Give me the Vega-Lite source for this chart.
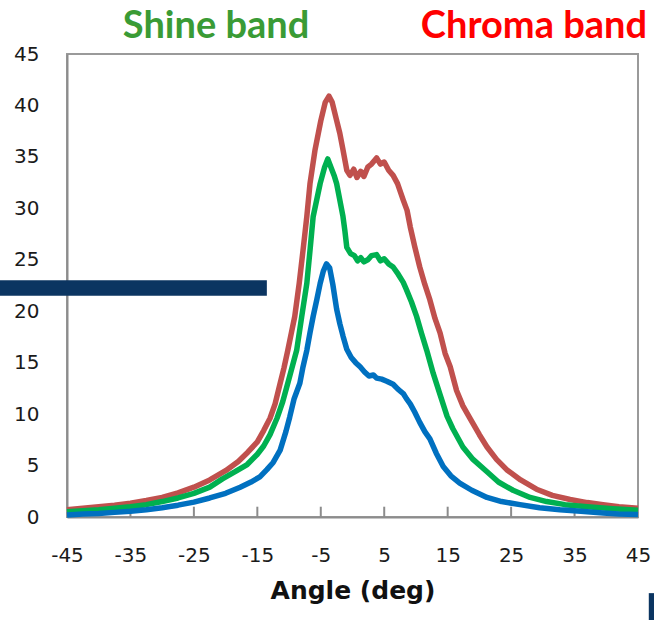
{
  "$schema": "https://vega.github.io/schema/vega-lite/v6.json",
  "autosize": "none",
  "width": 571,
  "height": 463,
  "padding": {"left": 67, "top": 54, "right": 16, "bottom": 103},
  "background": "white",
  "config": {
    "view": {"stroke": "#9a9a9a", "strokeWidth": 2},
    "axis": {"labelFont": "DejaVu Sans", "labelFontSize": 20, "labelColor": "#1a1a1a", "domainColor": "#8c8c8c", "domainWidth": 2, "tickColor": "#8c8c8c", "gridColor": "#a6a6a6", "gridWidth": 2}
  },
  "datasets": {
    "ticks": [{"t": -35}, {"t": -25}, {"t": -15}, {"t": -5}, {"t": 5}, {"t": 15}, {"t": 25}, {"t": 35}],
    "curves": [
      {"s":"Red","x":-45,"y":0.7},{"s":"Red","x":-42.5,"y":0.85},{"s":"Red","x":-40,"y":1.0},{"s":"Red","x":-37.5,"y":1.15},{"s":"Red","x":-35,"y":1.35},{"s":"Red","x":-32.5,"y":1.6},{"s":"Red","x":-30,"y":1.9},{"s":"Red","x":-27.5,"y":2.35},{"s":"Red","x":-25,"y":2.9},{"s":"Red","x":-22.5,"y":3.6},{"s":"Red","x":-20,"y":4.5},{"s":"Red","x":-18,"y":5.4},{"s":"Red","x":-16.5,"y":6.3},{"s":"Red","x":-15,"y":7.3},{"s":"Red","x":-14,"y":8.4},{"s":"Red","x":-13,"y":9.6},{"s":"Red","x":-12.2,"y":11.0},{"s":"Red","x":-11.4,"y":13.0},{"s":"Red","x":-10.8,"y":14.5},{"s":"Red","x":-10.2,"y":16.2},{"s":"Red","x":-9.6,"y":18.0},{"s":"Red","x":-9.1,"y":19.5},{"s":"Red","x":-8.4,"y":22.7},{"s":"Red","x":-7.8,"y":25.9},{"s":"Red","x":-7.2,"y":29.2},{"s":"Red","x":-6.7,"y":32.4},{"s":"Red","x":-5.9,"y":35.7},{"s":"Red","x":-5.0,"y":38.5},{"s":"Red","x":-4.3,"y":40.3},{"s":"Red","x":-3.7,"y":40.9},{"s":"Red","x":-3.2,"y":40.3},{"s":"Red","x":-2.6,"y":38.8},{"s":"Red","x":-2.0,"y":37.3},{"s":"Red","x":-1.5,"y":35.7},{"s":"Red","x":-0.9,"y":33.7},{"s":"Red","x":-0.4,"y":33.2},{"s":"Red","x":0.2,"y":33.8},{"s":"Red","x":0.7,"y":33.0},{"s":"Red","x":1.3,"y":33.6},{"s":"Red","x":1.8,"y":33.1},{"s":"Red","x":2.4,"y":34.0},{"s":"Red","x":3.0,"y":34.3},{"s":"Red","x":3.8,"y":34.9},{"s":"Red","x":4.4,"y":34.3},{"s":"Red","x":5.0,"y":34.5},{"s":"Red","x":5.7,"y":33.7},{"s":"Red","x":6.4,"y":33.2},{"s":"Red","x":7.1,"y":32.4},{"s":"Red","x":8.0,"y":30.8},{"s":"Red","x":8.6,"y":29.8},{"s":"Red","x":9.1,"y":28.2},{"s":"Red","x":9.8,"y":26.3},{"s":"Red","x":10.6,"y":24.3},{"s":"Red","x":11.4,"y":22.6},{"s":"Red","x":12.2,"y":21.1},{"s":"Red","x":13.0,"y":19.3},{"s":"Red","x":13.8,"y":17.9},{"s":"Red","x":14.6,"y":15.9},{"s":"Red","x":15.4,"y":14.6},{"s":"Red","x":16.4,"y":12.3},{"s":"Red","x":17.4,"y":10.8},{"s":"Red","x":18.5,"y":9.6},{"s":"Red","x":20,"y":8.0},{"s":"Red","x":21.2,"y":6.8},{"s":"Red","x":22.7,"y":5.6},{"s":"Red","x":24.3,"y":4.6},{"s":"Red","x":26.5,"y":3.6},{"s":"Red","x":29,"y":2.7},{"s":"Red","x":31.5,"y":2.1},{"s":"Red","x":34.3,"y":1.7},{"s":"Red","x":37,"y":1.4},{"s":"Red","x":39.5,"y":1.2},{"s":"Red","x":42,"y":1.0},{"s":"Red","x":45,"y":0.85},
      {"s":"Green","x":-45,"y":0.5},{"s":"Green","x":-42.5,"y":0.6},{"s":"Green","x":-40,"y":0.7},{"s":"Green","x":-37.5,"y":0.85},{"s":"Green","x":-35,"y":1.0},{"s":"Green","x":-32.5,"y":1.2},{"s":"Green","x":-30,"y":1.5},{"s":"Green","x":-27.5,"y":1.85},{"s":"Green","x":-25,"y":2.3},{"s":"Green","x":-22.5,"y":2.9},{"s":"Green","x":-20.5,"y":3.7},{"s":"Green","x":-18.5,"y":4.4},{"s":"Green","x":-16.6,"y":5.1},{"s":"Green","x":-15,"y":6.1},{"s":"Green","x":-14,"y":6.9},{"s":"Green","x":-13,"y":8.0},{"s":"Green","x":-11.9,"y":9.6},{"s":"Green","x":-11,"y":11.2},{"s":"Green","x":-10.2,"y":13.0},{"s":"Green","x":-9.5,"y":14.6},{"s":"Green","x":-8.8,"y":16.2},{"s":"Green","x":-8.0,"y":19.5},{"s":"Green","x":-7.2,"y":22.7},{"s":"Green","x":-6.7,"y":25.9},{"s":"Green","x":-6.2,"y":29.2},{"s":"Green","x":-5.1,"y":32.4},{"s":"Green","x":-4.4,"y":34.0},{"s":"Green","x":-3.9,"y":34.8},{"s":"Green","x":-3.4,"y":34.0},{"s":"Green","x":-2.9,"y":33.2},{"s":"Green","x":-2.5,"y":32.4},{"s":"Green","x":-2.0,"y":30.8},{"s":"Green","x":-1.5,"y":29.2},{"s":"Green","x":-1.2,"y":27.8},{"s":"Green","x":-0.9,"y":26.2},{"s":"Green","x":-0.3,"y":25.6},{"s":"Green","x":0.3,"y":25.4},{"s":"Green","x":0.8,"y":24.9},{"s":"Green","x":1.3,"y":25.2},{"s":"Green","x":1.8,"y":24.8},{"s":"Green","x":2.4,"y":25.0},{"s":"Green","x":3.0,"y":25.4},{"s":"Green","x":3.8,"y":25.5},{"s":"Green","x":4.4,"y":24.9},{"s":"Green","x":5.0,"y":25.1},{"s":"Green","x":5.7,"y":24.6},{"s":"Green","x":6.4,"y":24.3},{"s":"Green","x":7.2,"y":23.6},{"s":"Green","x":8.0,"y":22.8},{"s":"Green","x":8.5,"y":22.1},{"s":"Green","x":9.3,"y":20.9},{"s":"Green","x":10.1,"y":19.5},{"s":"Green","x":10.9,"y":17.8},{"s":"Green","x":11.7,"y":16.2},{"s":"Green","x":12.7,"y":14.0},{"s":"Green","x":13.8,"y":11.9},{"s":"Green","x":14.9,"y":9.8},{"s":"Green","x":15.8,"y":8.6},{"s":"Green","x":17.4,"y":6.8},{"s":"Green","x":19,"y":5.6},{"s":"Green","x":21.2,"y":4.4},{"s":"Green","x":23,"y":3.4},{"s":"Green","x":25.3,"y":2.6},{"s":"Green","x":28,"y":1.9},{"s":"Green","x":30.6,"y":1.5},{"s":"Green","x":33.5,"y":1.2},{"s":"Green","x":37,"y":1.0},{"s":"Green","x":41,"y":0.8},{"s":"Green","x":45,"y":0.65},
      {"s":"Blue","x":-45,"y":0.2},{"s":"Blue","x":-42.5,"y":0.3},{"s":"Blue","x":-40,"y":0.35},{"s":"Blue","x":-37.5,"y":0.45},{"s":"Blue","x":-35,"y":0.55},{"s":"Blue","x":-32.5,"y":0.7},{"s":"Blue","x":-30,"y":0.9},{"s":"Blue","x":-27.5,"y":1.15},{"s":"Blue","x":-25,"y":1.45},{"s":"Blue","x":-22.5,"y":1.85},{"s":"Blue","x":-20,"y":2.3},{"s":"Blue","x":-17.7,"y":2.9},{"s":"Blue","x":-16,"y":3.4},{"s":"Blue","x":-14.6,"y":3.9},{"s":"Blue","x":-13.5,"y":4.6},{"s":"Blue","x":-12.5,"y":5.3},{"s":"Blue","x":-11.4,"y":6.5},{"s":"Blue","x":-10.5,"y":8.3},{"s":"Blue","x":-9.9,"y":9.7},{"s":"Blue","x":-9.2,"y":11.5},{"s":"Blue","x":-8.3,"y":13.0},{"s":"Blue","x":-7.8,"y":14.6},{"s":"Blue","x":-7.2,"y":16.2},{"s":"Blue","x":-6.7,"y":17.9},{"s":"Blue","x":-6.2,"y":19.5},{"s":"Blue","x":-5.6,"y":21.2},{"s":"Blue","x":-5.1,"y":22.7},{"s":"Blue","x":-4.6,"y":23.9},{"s":"Blue","x":-4.1,"y":24.6},{"s":"Blue","x":-3.6,"y":24.2},{"s":"Blue","x":-3.1,"y":22.6},{"s":"Blue","x":-2.5,"y":20.2},{"s":"Blue","x":-2.0,"y":18.8},{"s":"Blue","x":-1.5,"y":17.6},{"s":"Blue","x":-0.9,"y":16.3},{"s":"Blue","x":-0.2,"y":15.5},{"s":"Blue","x":0.5,"y":15.0},{"s":"Blue","x":1.2,"y":14.6},{"s":"Blue","x":1.9,"y":14.1},{"s":"Blue","x":2.6,"y":13.7},{"s":"Blue","x":3.3,"y":13.8},{"s":"Blue","x":3.8,"y":13.5},{"s":"Blue","x":4.6,"y":13.4},{"s":"Blue","x":5.4,"y":13.2},{"s":"Blue","x":6.4,"y":12.9},{"s":"Blue","x":7.2,"y":12.4},{"s":"Blue","x":8.0,"y":12.0},{"s":"Blue","x":8.5,"y":11.5},{"s":"Blue","x":9.1,"y":11.0},{"s":"Blue","x":9.8,"y":10.2},{"s":"Blue","x":10.6,"y":9.2},{"s":"Blue","x":11.4,"y":8.3},{"s":"Blue","x":12.2,"y":7.6},{"s":"Blue","x":13.2,"y":6.2},{"s":"Blue","x":14.3,"y":4.9},{"s":"Blue","x":15.5,"y":4.0},{"s":"Blue","x":16.9,"y":3.3},{"s":"Blue","x":18.8,"y":2.6},{"s":"Blue","x":21.2,"y":1.9},{"s":"Blue","x":23.5,"y":1.5},{"s":"Blue","x":26.4,"y":1.2},{"s":"Blue","x":29.5,"y":0.9},{"s":"Blue","x":32.7,"y":0.7},{"s":"Blue","x":36,"y":0.55},{"s":"Blue","x":39.5,"y":0.4},{"s":"Blue","x":42,"y":0.3},{"s":"Blue","x":45,"y":0.25}
    ]
  },
  "layer": [
    {
      "data": {"name": "ticks"},
      "mark": {"type": "rule", "color": "#8c8c8c", "strokeWidth": 2},
      "encoding": {
        "x": {"field": "t", "type": "quantitative", "scale": {"domain": [-45, 45], "nice": false},
          "axis": {"values": [-45, -35, -25, -15, -5, 5, 15, 25, 35, 45], "labelExpr": "'' + datum.value", "grid": false, "ticks": false, "labelPadding": 28, "labelFlush": false,
            "title": "Angle (deg)", "titleFont": "DejaVu Sans", "titleFontWeight": "bold", "titleFontSize": 25, "titleColor": "#111111", "titlePadding": 13}},
        "y": {"datum": 0, "type": "quantitative", "scale": {"domain": [0, 45], "nice": false},
          "axis": {"values": [0, 5, 10, 15, 20, 25, 30, 35, 40, 45], "ticks": false, "labelPadding": 28, "title": null}},
        "y2": {"datum": 1.0}
      }
    },
    {
      "data": {"name": "curves"},
      "transform": [{"filter": "datum.s === 'Red'"}],
      "mark": {"type": "line", "color": "#C0504D", "strokeWidth": 5.5, "strokeJoin": "round"},
      "encoding": {"x": {"field": "x", "type": "quantitative"}, "y": {"field": "y", "type": "quantitative"}}
    },
    {
      "data": {"name": "curves"},
      "transform": [{"filter": "datum.s === 'Green'"}],
      "mark": {"type": "line", "color": "#00B050", "strokeWidth": 5.5, "strokeJoin": "round"},
      "encoding": {"x": {"field": "x", "type": "quantitative"}, "y": {"field": "y", "type": "quantitative"}}
    },
    {
      "data": {"name": "curves"},
      "transform": [{"filter": "datum.s === 'Blue'"}],
      "mark": {"type": "line", "color": "#0070C0", "strokeWidth": 5.5, "strokeJoin": "round"},
      "encoding": {"x": {"field": "x", "type": "quantitative"}, "y": {"field": "y", "type": "quantitative"}}
    },
    {
      "data": {"values": [{}]},
      "mark": {"type": "rect", "color": "#0B3561"},
      "encoding": {"x": {"datum": -55.6}, "x2": {"datum": -13.5}, "y": {"datum": 23.0}, "y2": {"datum": 21.5}}
    },
    {
      "data": {"values": [{}]},
      "mark": {"type": "rect", "color": "#0B3561"},
      "encoding": {"x": {"datum": 46.7}, "x2": {"datum": 47.6}, "y": {"datum": -7.4}, "y2": {"datum": -10.2}}
    },
    {
      "data": {"values": [{}]},
      "mark": {"type": "text", "text": "Shine band", "font": "Lato", "fontWeight": "bold", "fontSize": 38, "color": "#3A9B35", "align": "center", "baseline": "alphabetic"},
      "encoding": {"x": {"datum": -21.5}, "y": {"datum": 46.6}}
    },
    {
      "data": {"values": [{}]},
      "mark": {"type": "text", "text": "Chroma band", "font": "Lato", "fontWeight": "bold", "fontSize": 38, "color": "#FF0000", "align": "center", "baseline": "alphabetic"},
      "encoding": {"x": {"datum": 28.6}, "y": {"datum": 46.6}}
    }
  ]
}
